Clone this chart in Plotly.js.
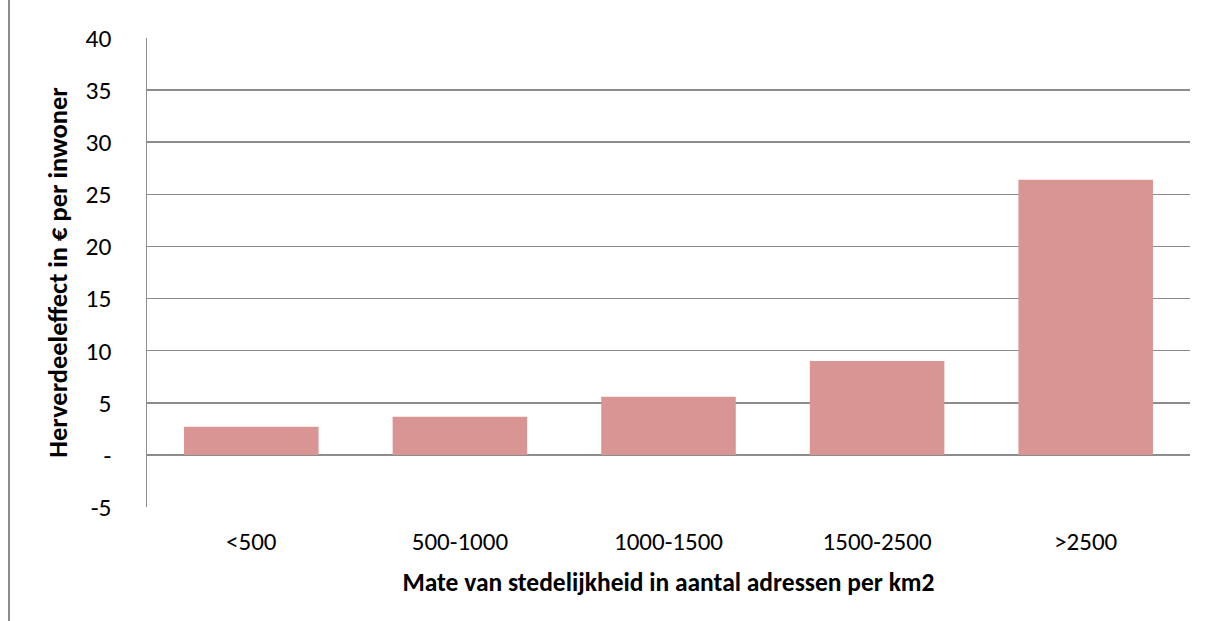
<!DOCTYPE html>
<html>
<head>
<meta charset="utf-8">
<script src="https://cdn.plot.ly/plotly-3.0.1.min.js"></script>
<style>
html,body{margin:0;padding:0;background:#fff;}
#chart{width:1206px;height:621px;}
</style>
</head>
<body>
<div id="chart"></div>
<script>
const categories = ["<500", "500-1000", "1000-1500", "1500-2500", ">2500"];
const values = [2.7, 3.65, 5.57, 9.02, 26.4];
const yTickVals = [-5, 0, 5, 10, 15, 20, 25, 30, 35, 40];
const yTickText = ["-5", "-", "5", "10", "15", "20", "25", "30", "35", "40"];

const font = "Calibri, Carlito, 'Open Sans', sans-serif";

Plotly.newPlot("chart", [{
  type: "bar",
  x: categories,
  y: values,
  marker: {color: "#d99594"},
  hoverinfo: "x+y"
}], {
  width: 1206,
  height: 621,
  margin: {l: 147, r: 16, t: 38, b: 114},
  paper_bgcolor: "#fff",
  plot_bgcolor: "#fff",
  bargap: 0.355,
  showlegend: false,
  font: {family: font, color: "#000", size: 25},
  xaxis: {
    type: "category",
    showgrid: false,
    zeroline: false,
    showline: false,
    ticks: "",
    tickfont: {size: 25, family: font},
    ticklabelstandoff: 17,
    title: {text: "<b>Mate van stedelijkheid in aantal adressen per km2</b>", font: {size: 25.5, family: font}, standoff: 17}
  },
  yaxis: {
    range: [-5, 40],
    tickvals: yTickVals,
    ticktext: yTickText,
    showgrid: true,
    gridcolor: "#8c8c8c",
    gridwidth: 1.5,
    zeroline: true,
    zerolinecolor: "#8c8c8c",
    zerolinewidth: 1.5,
    showline: true,
    linecolor: "#8c8c8c",
    linewidth: 1.5,
    ticks: "",
    tickfont: {size: 25.5, family: font},
    ticklabelstandoff: 29,
    title: {text: "<b>Herverdeeleffect in € per inwoner</b>", font: {size: 26.5, family: font}, standoff: 10}
  },
  shapes: [{
    type: "line", xref: "paper", yref: "paper",
    x0: -0.1323, x1: -0.1323, y0: -0.3, y1: 1.1,
    line: {color: "#8c8c8c", width: 2}
  }]
}, {displayModeBar: false, staticPlot: true});
</script>
</body>
</html>
